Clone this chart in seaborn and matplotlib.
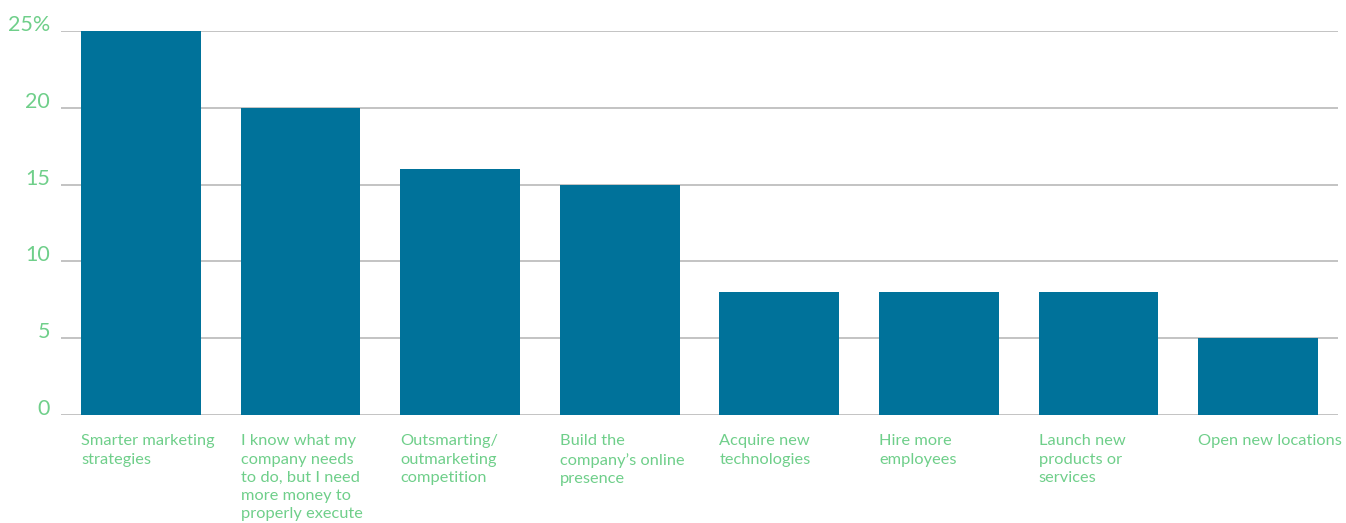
import matplotlib
matplotlib.use("Agg")
import matplotlib.pyplot as plt
import seaborn as sns
import pandas as pd
import numpy as np

categories = [
    "Smarter marketing\nstrategies",
    "I know what my\ncompany needs\nto do, but I need\nmore money to\nproperly execute",
    "Outsmarting/\noutmarketing\ncompetition",
    "Build the\ncompany\u2019s online\npresence",
    "Acquire new\ntechnologies",
    "Hire more\nemployees",
    "Launch new\nproducts or\nservices",
    "Open new locations",
]
values = [25, 20, 16, 15, 8, 8, 8, 5]
ytick_values = [0, 5, 10, 15, 20, 25]
ytick_labels = ["0", "5", "10", "15", "20", "25%"]

BAR = "#00729a"
GREEN = "#6fcf8a"

sns.set_theme(style="white")
plt.rcParams["font.family"] = ["Lato", "DejaVu Sans"]

df = pd.DataFrame({"cat": categories, "val": values})

fig = plt.figure(figsize=(13.46, 5.23), dpi=100)
ax = fig.add_axes([61/1346, 1-415/523, (1338-61)/1346, (415-31)/523])

sns.barplot(data=df, x="cat", y="val", color=BAR, saturation=1, width=0.75, ax=ax, zorder=3)
for p in ax.patches:
    p.set_edgecolor("none")

ax.set_xlim(-0.5, len(categories) - 0.5)
ax.set_ylim(0, 25)
ax.set_yticks(ytick_values)
ax.set_yticklabels(ytick_labels, fontsize=15.5, color=GREEN)
for lab in ax.get_yticklabels():
    lab.set_verticalalignment("baseline")
ax.tick_params(axis="y", length=0, pad=8)
ax.yaxis.grid(True, color="#b3b3b3", linewidth=1.1, zorder=0)
ax.set_axisbelow(True)

ax.set_xticks(np.arange(len(categories)) - 0.375)
ax.set_xticklabels(categories, fontsize=11.8, color=GREEN, ha="left", linespacing=1.38)
ax.tick_params(axis="x", length=0, pad=14)
ax.set_xlabel("")
ax.set_ylabel("")
for s in ax.spines.values():
    s.set_visible(False)

fig.savefig("out.png", dpi=100)
